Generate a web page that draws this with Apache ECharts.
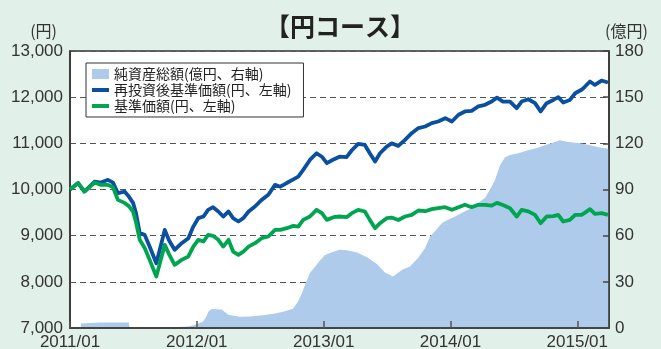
<!DOCTYPE html>
<html>
<head>
<meta charset="utf-8">
<script src="https://cdn.jsdelivr.net/npm/echarts@6/dist/echarts.min.js"></script>
<style>
  html, body { margin: 0; padding: 0; background: #e2f0ea; }
  #chart { width: 661px; height: 349px; }
</style>
</head>
<body>
<div id="chart"></div>
<script>
// 基準価額・再投資後基準価額（円）
const navDates = [
  '2011/01/01','2011/01/24','2011/02/12','2011/03/11','2011/03/29','2011/04/19','2011/05/03','2011/05/17','2011/06/06','2011/06/18','2011/06/30','2011/07/08','2011/07/19','2011/08/03','2011/08/17','2011/09/06','2011/09/16','2011/09/30','2011/10/12','2011/10/28','2011/11/18','2011/12/07','2011/12/21',
  '2012/01/05','2012/01/20','2012/02/03','2012/02/17','2012/03/02','2012/03/16','2012/03/31','2012/04/14','2012/04/29','2012/05/13','2012/05/28','2012/06/16','2012/07/05','2012/07/24','2012/08/13','2012/08/28','2012/09/16','2012/10/05','2012/10/19','2012/11/03','2012/11/22','2012/12/11','2012/12/26',
  '2013/01/10','2013/01/29','2013/02/16','2013/03/06','2013/03/21','2013/04/09','2013/04/28','2013/05/12','2013/05/27','2013/06/11','2013/06/30','2013/07/14','2013/08/03','2013/08/22','2013/09/11','2013/09/30','2013/10/19','2013/11/08','2013/11/26','2013/12/16',
  '2014/01/05','2014/01/24','2014/02/12','2014/03/01','2014/03/20','2014/04/09','2014/04/28','2014/05/13','2014/05/30','2014/06/20','2014/07/09','2014/07/23','2014/08/12','2014/09/01','2014/09/17','2014/10/04','2014/10/23','2014/11/07','2014/11/21','2014/12/10','2014/12/25',
  '2015/01/13','2015/01/23','2015/02/07','2015/02/21','2015/03/10','2015/03/28'
];
const reinvestedNav = [
  10000,10140,9955,10170,10150,10210,10150,9920,9955,9850,9710,9500,9055,9017,8764,8404,8700,9125,8900,8693,8837,8946,9196,
  9379,9415,9560,9617,9524,9415,9524,9379,9307,9379,9524,9632,9775,9885,10100,10060,10140,10220,10280,10425,10640,10785,10710,
  10570,10650,10710,10700,10850,10990,10965,10785,10605,10785,10930,11000,10945,11075,11220,11330,11365,11437,11473,11545,
  11473,11620,11690,11705,11800,11835,11907,11990,11905,11905,11760,11905,11955,11870,11690,11870,11940,12000,11885,11940,12085,
  12160,12230,12340,12265,12360,12318
];
const nav = [
  10000,10140,9955,10150,10100,10100,10050,9775,9710,9640,9520,9300,8910,8735,8476,8115,8400,8800,8600,8368,8476,8550,8764,
  8910,8873,9017,8996,8910,8764,8910,8656,8585,8656,8764,8837,8946,8982,9126,9126,9162,9212,9197,9342,9415,9560,9487,
  9342,9400,9415,9400,9487,9560,9524,9342,9162,9270,9379,9393,9340,9415,9450,9545,9530,9575,9595,9617,
  9560,9617,9668,9617,9668,9668,9650,9710,9665,9595,9415,9560,9525,9450,9270,9415,9425,9450,9307,9342,9450,
  9450,9500,9575,9470,9487,9450
];

// 純資産総額（億円）
const assetDates = [
  '2011/02/02','2011/02/28','2011/03/26','2011/04/25','2011/06/18','2011/06/20','2011/09/16','2011/11/27','2011/12/11',
  '2012/01/01','2012/01/19','2012/01/27','2012/02/05','2012/02/14','2012/03/12','2012/03/30','2012/05/03','2012/06/02','2012/07/15','2012/08/13','2012/09/06','2012/10/04','2012/10/18','2012/10/30','2012/11/08','2012/11/22','2012/12/07','2012/12/21',
  '2013/01/05','2013/01/28','2013/02/17','2013/03/07','2013/04/06','2013/05/04','2013/06/03','2013/06/25','2013/07/18','2013/08/14','2013/09/06','2013/09/29','2013/10/19','2013/11/03','2013/11/17','2013/12/07','2013/12/24',
  '2014/01/14','2014/02/12','2014/03/02','2014/03/19','2014/04/09','2014/04/23','2014/05/07','2014/05/22','2014/06/06','2014/06/20','2014/07/13','2014/08/11','2014/09/07','2014/09/24','2014/10/19','2014/11/12','2014/12/05',
  '2015/01/03','2015/02/01','2015/03/01','2015/03/31'
];
const netAssets = [
  3.0,3.3,3.5,3.5,3.5,0.5,0.4,0.8,1.2,
  2.5,4.3,7,11,12.3,12.0,8.6,7.3,7.5,8.5,9.5,10.5,12.5,17,23,28,35.7,40,44,
  47.5,49.5,50.9,50.5,49,46,41.5,36,33.5,37.9,40,45.5,52,59.5,62.8,68.2,70.4,
  72.5,75.8,78,81.2,84.5,89.9,96,106,111,112.5,113.5,115.5,117,118.5,120.2,122,120.8,
  120.2,119.1,117.5,116.5
];

const xLabels = ['2011/01', '2012/01', '2013/01', '2014/01', '2015/01'];
const seriesNames = ['純資産総額(億円、右軸)', '再投資後基準価額(円、左軸)', '基準価額(円、左軸)'];

// months elapsed since 2011/01/01
function monthIndex(s) {
  const [y, m, d] = s.split('/').map(Number);
  return (y - 2011) * 12 + (m - 1) + (d - 1) / 30;
}
const pair = (dates, vals) => dates.map((d, i) => [monthIndex(d), vals[i]]);
const withComma = v => String(v).replace(/\B(?=(\d{3})+(?!\d))/g, ',');

// legend swatch for the line series: a short bar inside a 17x10 box
const barIcon = 'path://M0,0M0,3L17,3L17,7L0,7ZM17,10';

const numFont = 'Liberation Sans';
const jpFont = 'Noto Sans CJK JP';

const chart = echarts.init(document.getElementById('chart'));
chart.setOption({
  animation: false,
  backgroundColor: '#e2f0ea',
  title: {
    text: '【円コース】',
    left: 260,
    top: 9,
    textStyle: { fontFamily: jpFont, fontSize: 25, fontWeight: 'bold', color: '#222' }
  },
  legend: {
    orient: 'vertical',
    left: 86,
    top: 63,
    backgroundColor: '#fff',
    borderColor: '#333',
    borderWidth: 1,
    borderRadius: 0,
    padding: [4, 12, 4, 6],
    itemGap: 2,
    itemWidth: 17,
    itemHeight: 10,
    textStyle: { fontFamily: jpFont, fontSize: 14, color: '#222' },
    data: [
      { name: seriesNames[0], icon: 'rect' },
      { name: seriesNames[1], icon: barIcon },
      { name: seriesNames[2], icon: barIcon }
    ]
  },
  grid: {
    left: 70, right: 52, top: 51, bottom: 21,
    outerBoundsMode: 'none',
    show: true, backgroundColor: '#fff', borderColor: '#333', borderWidth: 1.5
  },
  xAxis: {
    type: 'value',
    min: 0, max: 51, interval: 12,
    z: 3,
    axisLine: { lineStyle: { color: '#444', width: 2 } },
    axisTick: { inside: true, length: 7, lineStyle: { color: '#555', width: 1.5 } },
    splitLine: { show: false },
    axisLabel: {
      margin: 6,
      fontFamily: numFont, fontSize: 17, color: '#333',
      showMaxLabel: false,
      formatter: v => xLabels[v / 12] || ''
    }
  },
  yAxis: [
    {
      type: 'value',
      min: 7000, max: 13000, interval: 1000,
      name: '(円)',
      nameLocation: 'end',
      nameGap: 12,
      nameTextStyle: { fontFamily: jpFont, fontSize: 16, color: '#333', align: 'right', padding: [0, 13, 0, 0] },
      axisLine: { show: true, lineStyle: { color: '#333', width: 1.5 } },
      axisTick: { show: false },
      axisLabel: { margin: 7, fontFamily: numFont, fontSize: 17, color: '#333', formatter: withComma },
      splitLine: { lineStyle: { color: '#555', width: 1.2, type: [6, 4] } }
    },
    {
      type: 'value',
      min: 0, max: 180, interval: 30,
      position: 'right',
      z: 3,
      name: '(億円)',
      nameLocation: 'end',
      nameGap: 12,
      nameTextStyle: { fontFamily: jpFont, fontSize: 16, color: '#333', align: 'left', padding: [0, 0, 0, -4] },
      axisLine: { show: true, lineStyle: { color: '#333', width: 1.5 } },
      axisTick: { show: true, inside: true, length: 6, lineStyle: { color: '#444', width: 1.5 } },
      axisLabel: { margin: 6, fontFamily: numFont, fontSize: 17, color: '#333' },
      splitLine: { show: false }
    }
  ],
  series: [
    {
      name: seriesNames[0],
      type: 'line',
      yAxisIndex: 1,
      data: pair(assetDates, netAssets),
      symbol: 'none',
      lineStyle: { width: 0 },
      itemStyle: { color: '#aecbeb' },
      areaStyle: { color: '#aecbeb', opacity: 1 },
      z: 1
    },
    {
      name: seriesNames[1],
      type: 'line',
      data: pair(navDates, reinvestedNav),
      symbol: 'none',
      itemStyle: { color: '#0a4fa0' },
      lineStyle: { color: '#0a4fa0', width: 3.8, join: 'round' },
      z: 3
    },
    {
      name: seriesNames[2],
      type: 'line',
      data: pair(navDates, nav),
      symbol: 'none',
      itemStyle: { color: '#00a550' },
      lineStyle: { color: '#00a550', width: 3.8, join: 'round' },
      z: 4
    }
  ]
});
</script>
</body>
</html>
